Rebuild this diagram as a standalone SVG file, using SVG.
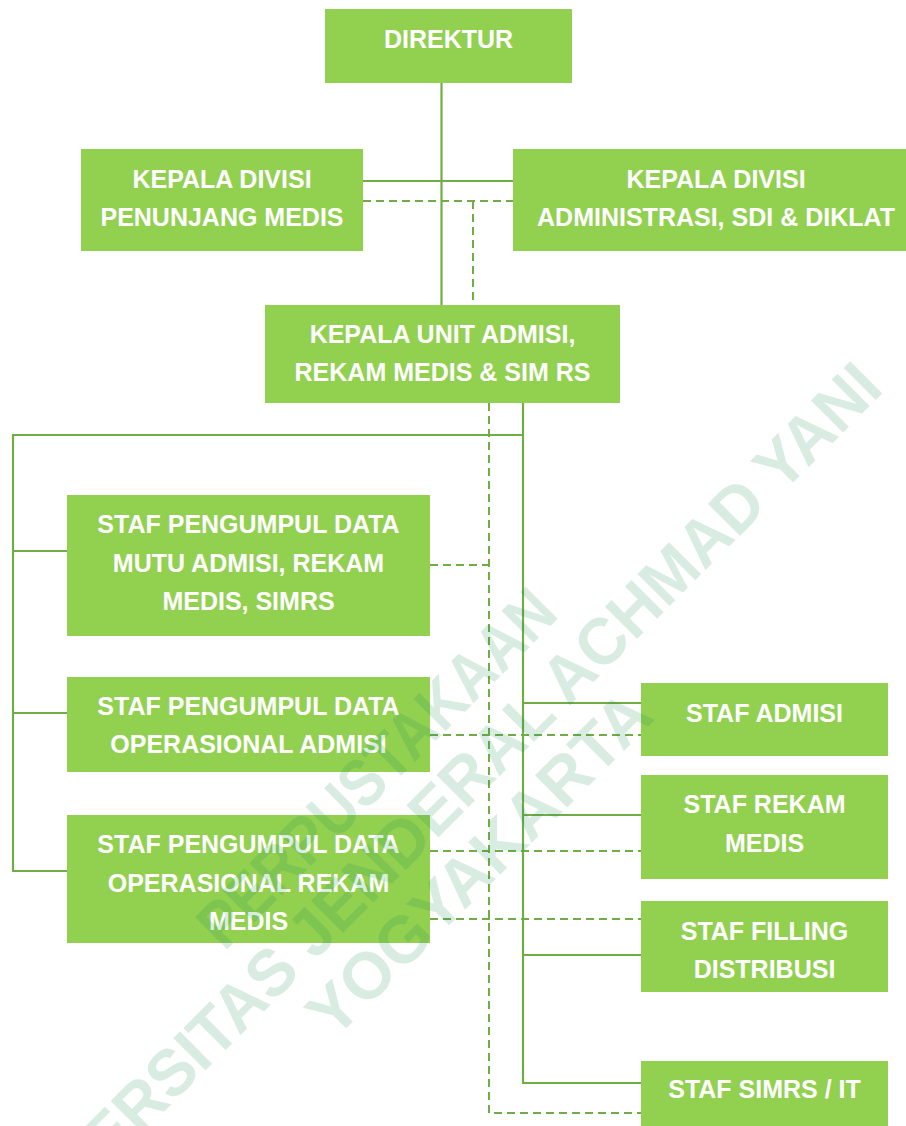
<svg xmlns="http://www.w3.org/2000/svg" width="906" height="1126" viewBox="0 0 906 1126">
<style>
.box{fill:#92D050}
.t{fill:#FFFFFF;font-family:"Liberation Sans",Arial,sans-serif;font-weight:bold;font-size:25px;text-anchor:middle}
.s{fill:none;stroke:#70AD47;stroke-width:2.2}
.d{fill:none;stroke:#70AD47;stroke-width:2;stroke-dasharray:8 5}
.wm{fill:#169053;fill-opacity:0.17;font-family:"Liberation Sans",Arial,sans-serif;font-weight:bold;font-size:66px;text-anchor:middle}
</style>
<rect width="906" height="1126" fill="#FFFFFF"/>
<g id="connectors">
<line class="s" x1="441.5" y1="83" x2="441.5" y2="305"/>
<line class="s" x1="363" y1="181" x2="513" y2="181"/>
<line class="d" x1="363" y1="201" x2="513" y2="201"/>
<line class="d" x1="473" y1="201" x2="473" y2="305"/>
<polyline class="s" points="523,403 523,1083 641,1083"/>
<polyline class="s" points="523,435 13,435 13,871 67,871"/>
<line class="s" x1="13" y1="551" x2="67" y2="551"/>
<line class="s" x1="13" y1="713" x2="67" y2="713"/>
<line class="s" x1="523" y1="703" x2="641" y2="703"/>
<line class="s" x1="523" y1="815" x2="641" y2="815"/>
<line class="s" x1="523" y1="955" x2="641" y2="955"/>
<polyline class="d" points="489,403 489,1113 641,1113"/>
<polyline class="d" points="430,565 489,565"/>
<line class="d" x1="430" y1="735" x2="641" y2="735"/>
<line class="d" x1="430" y1="851" x2="641" y2="851"/>
<line class="d" x1="430" y1="919" x2="641" y2="919"/>
</g>
<g id="direktur"><rect class="box" x="325" y="9" width="247" height="74"/><text class="t" x="448.5" y="48">DIREKTUR</text></g>
<g id="kepala-penunjang"><rect class="box" x="81" y="149" width="282" height="102"/><text class="t" x="222" y="188">KEPALA DIVISI</text><text class="t" x="222" y="226">PENUNJANG MEDIS</text></g>
<g id="kepala-administrasi"><rect class="box" x="513" y="149" width="393" height="102"/><text class="t" x="716" y="188">KEPALA DIVISI</text><text class="t" x="716" y="226">ADMINISTRASI, SDI &amp; DIKLAT</text></g>
<g id="kepala-unit"><rect class="box" x="265" y="305" width="355" height="98"/><text class="t" x="442.5" y="343">KEPALA UNIT ADMISI,</text><text class="t" x="442.5" y="381">REKAM MEDIS &amp; SIM RS</text></g>
<g id="staf-mutu"><rect class="box" x="67" y="495" width="363" height="141"/><text class="t" x="248.5" y="533">STAF PENGUMPUL DATA</text><text class="t" x="248.5" y="572">MUTU ADMISI, REKAM</text><text class="t" x="248.5" y="610">MEDIS, SIMRS</text></g>
<g id="staf-op-admisi"><rect class="box" x="67" y="677" width="363" height="95"/><text class="t" x="248.5" y="715">STAF PENGUMPUL DATA</text><text class="t" x="248.5" y="753">OPERASIONAL ADMISI</text></g>
<g id="staf-op-rekam"><rect class="box" x="67" y="815" width="363" height="128"/><text class="t" x="248.5" y="853">STAF PENGUMPUL DATA</text><text class="t" x="248.5" y="892">OPERASIONAL REKAM</text><text class="t" x="248.5" y="930">MEDIS</text></g>
<g id="staf-admisi"><rect class="box" x="641" y="683" width="247" height="73"/><text class="t" x="764.5" y="722">STAF ADMISI</text></g>
<g id="staf-rekam"><rect class="box" x="641" y="775" width="247" height="104"/><text class="t" x="764.5" y="813">STAF REKAM</text><text class="t" x="764.5" y="852">MEDIS</text></g>
<g id="staf-filling"><rect class="box" x="641" y="901" width="247" height="91"/><text class="t" x="764.5" y="940">STAF FILLING</text><text class="t" x="764.5" y="978">DISTRIBUSI</text></g>
<g id="staf-simrs"><rect class="box" x="641" y="1061" width="247" height="70"/><text class="t" x="764.5" y="1098">STAF SIMRS / IT</text></g>
<g id="watermark" transform="rotate(-45)">
<text class="wm" x="-277" y="832" textLength="475" lengthAdjust="spacingAndGlyphs">PERPUSTAKAAN</text>
<text class="wm" x="-275" y="902" textLength="1250" lengthAdjust="spacingAndGlyphs">UNIVERSITAS JENDERAL ACHMAD YANI</text>
<text class="wm" x="-272" y="972" textLength="455" lengthAdjust="spacingAndGlyphs">YOGYAKARTA</text>
</g>
</svg>
